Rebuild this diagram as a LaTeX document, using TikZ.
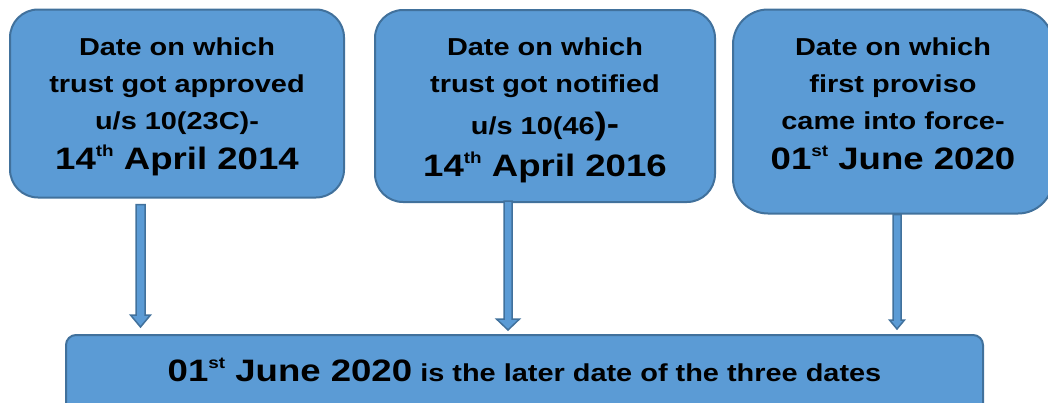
\documentclass[tikz,border=0pt]{standalone}
\usepackage{fontspec}
\setmainfont{Liberation Sans}
\usetikzlibrary{calc}
\definecolor{boxfill}{HTML}{5B9BD5}
\definecolor{boxline}{HTML}{41719C}
\newcommand\bigdate[1]{{\fontsize{31}{37}\selectfont #1}}
\newcommand\supx[1]{\raisebox{13pt}{\fontsize{16}{16}\selectfont #1}}
\newcommand\wide[1]{\scalebox{1.18}[1]{\begin{tabular}{@{}c@{}}#1\end{tabular}}}
\tikzset{blockarrow/.style n args={3}{to path={let \p1=(\tikztostart), \p2=(\tikztotarget) in
  (\x1-#1,\y1) -- (\x1-#1,\y2+#3) -- (\x1-#2,\y2+#3) -- (\x1,\y2) -- (\x1+#2,\y2+#3) -- (\x1+#1,\y2+#3) -- (\x1+#1,\y1) -- cycle}}}
\begin{document}
\begin{tikzpicture}[x=1pt,y=-1pt]
            \tikzstyle{datebox} = [draw=boxline, fill=boxfill, line width=2pt, align=center, inner sep=0pt,
                                   font=\bfseries\fontsize{24.5}{37}\selectfont]
            \tikzstyle{down} = [draw=boxline, fill=boxfill, line width=1.5pt]
            \useasboundingbox (0,0) rectangle (1048,402);
            \node[datebox, rounded corners=28pt, minimum width=334pt, minimum height=188pt] (approved) at (177,103.5)
                {\wide{\rule{0pt}{29.9pt}Date on which\\trust got approved\\u/s 10(23C)-\\[3pt]\bigdate{14\supx{th} April 2014}}};
            \node[datebox, rounded corners=28pt, minimum width=340pt, minimum height=192pt] (notified) at (545,106)
                {\wide{\rule{0pt}{31.9pt}Date on which\\trust got notified\\[5pt]u/s 10(46\bigdate{)-}\\[5pt]\bigdate{14\supx{th} April 2016}}};
            \node[datebox, rounded corners=35pt, minimum width=320pt, minimum height=204pt] (proviso) at (893,111.5)
                {\wide{Date on which\\first proviso\\came into force-\\[3pt]\bigdate{01\supx{st} June 2020}\\[12pt]}};
            \node[datebox, rounded corners=10pt, minimum width=917pt, minimum height=78pt] (result) at (524.5,374)
                {\wide{\bigdate{01\supx{st} June 2020} is the later date of the three dates}};
            \draw[down, blockarrow={4.5pt}{10pt}{12pt}] ([xshift=-36.5pt,yshift=-6pt]approved.south) to ([xshift=-36.5pt,yshift=7pt]approved.south |- result.north);
            \draw[down, blockarrow={4pt}{11.5pt}{11pt}] ([xshift=-37pt,yshift=2pt]notified.south) to ([xshift=-37pt,yshift=4pt]notified.south |- result.north);
            \draw[down, blockarrow={4pt}{7.5pt}{9pt}] ([xshift=4pt]proviso.south) to ([xshift=4pt,yshift=5pt]proviso.south |- result.north);
\end{tikzpicture}
\end{document}
